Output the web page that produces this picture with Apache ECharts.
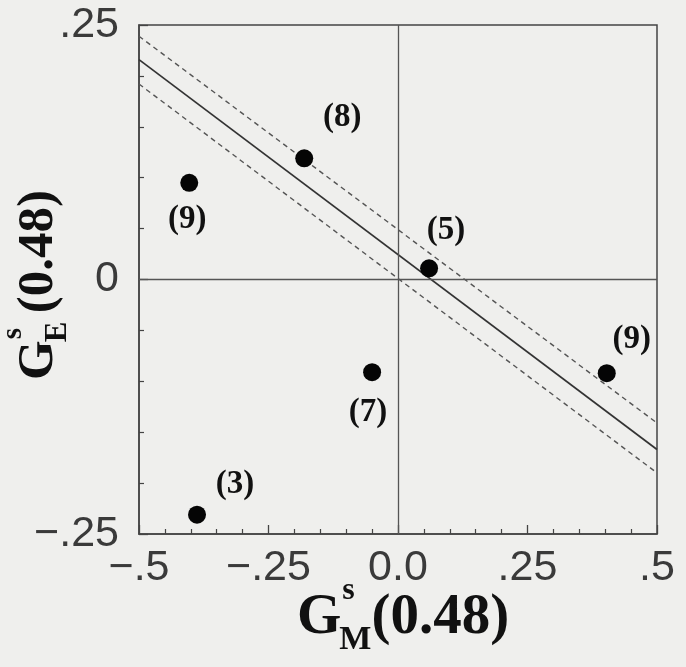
<!DOCTYPE html>
<html>
<head>
<meta charset="utf-8">
<script src="https://cdn.jsdelivr.net/npm/echarts@6/dist/echarts.min.js"></script>
<style>
html,body{margin:0;padding:0;background:#efefed;}
#chart{width:686px;height:667px;}
</style>
</head>
<body>
<div id="chart"></div>
<script>
// ---- data ----
var pointX = [-0.181, -0.403, 0.060, 0.403, -0.050, -0.388];
var pointY = [0.119, 0.095, 0.011, -0.092, -0.091, -0.231];
var pointLabels = ['(8)', '(9)', '(5)', '(9)', '(7)', '(3)'];
var fitX = [-0.5, 0.5];
var fitY = [0.216, -0.167];
var upperY = [0.239, -0.141];
var lowerY = [0.192, -0.190];
var xTickValues = [-0.5, -0.25, 0, 0.25, 0.5];
var xTickLabels = ['\u2212.5', '\u2212.25', '0.0', '.25', '.5'];
var yTickValues = [-0.25, 0, 0.25];
var yTickLabels = ['\u2212.25', '0', '.25'];

// label placement (pixel offsets relative to marker)
var labelOffsets = [[38, -41], [-2, 37], [17, -38], [25, -34], [-4, 40], [38, -30]];

function lookup(vals, labs, v) {
  for (var i = 0; i < vals.length; i++) if (Math.abs(vals[i] - v) < 1e-9) return labs[i];
  return '';
}
function pairs(xs, ys) { return xs.map(function (x, i) { return [x, ys[i]]; }); }

var chart = echarts.init(document.getElementById('chart'), null, {renderer: 'canvas'});

var tickFont = {fontFamily: '"Liberation Sans", Arial, sans-serif', fontSize: 43, color: '#3a3a3a'};
var nameFont = '"Liberation Serif", "Times New Roman", serif';

var scatterData = pointX.map(function (x, i) {
  return {
    value: [x, pointY[i]],
    label: {offset: labelOffsets[i]}
  };
});

function nameGroup(F, sub, sup, subF, supF) {
  var mid = -0.34 * F;
  var gw = 0.778 * F;
  return [
    {type: 'text', x: 0, y: mid, style: {text: 'G', font: 'bold ' + F + 'px ' + nameFont, fill: '#111', align: 'left', verticalAlign: 'middle'}},
    {type: 'text', x: gw + 1, y: -0.64 * F - 0.34 * supF, style: {text: sup, font: 'bold ' + supF + 'px ' + nameFont, fill: '#111', align: 'left', verticalAlign: 'middle'}},
    {type: 'text', x: gw - 2, y: 0.25 * F - 0.34 * subF, style: {text: sub, font: 'bold ' + subF + 'px ' + nameFont, fill: '#111', align: 'left', verticalAlign: 'middle'}},
    {type: 'text', x: gw + 0.53 * F, y: mid, style: {text: '(0.48)', font: 'bold ' + F + 'px ' + nameFont, fill: '#111', align: 'left', verticalAlign: 'middle'}}
  ];
}

var option = {
  backgroundColor: '#efefed',
  animation: false,
  grid: {left: 139, right: 29, top: 25, bottom: 133, show: true, borderColor: '#444', borderWidth: 1.5, backgroundColor: 'transparent'},
  xAxis: {
    type: 'value', min: -0.5, max: 0.5, interval: 0.25,
    axisLine: {show: true, onZero: false, lineStyle: {color: '#444', width: 1.5}},
    axisTick: {show: true, inside: true, length: 9, lineStyle: {color: '#444', width: 1.3}},
    minorTick: {show: true, splitNumber: 5, length: 5, lineStyle: {color: '#444', width: 1.2}},
    splitLine: {show: false},
    axisLabel: Object.assign({margin: 13, formatter: function (v) { return lookup(xTickValues, xTickLabels, v); }}, tickFont)
  },
  yAxis: {
    type: 'value', min: -0.25, max: 0.25, interval: 0.25,
    axisLine: {show: true, onZero: false, lineStyle: {color: '#444', width: 1.5}},
    axisTick: {show: true, inside: true, length: 9, lineStyle: {color: '#444', width: 1.3}},
    minorTick: {show: true, splitNumber: 5, length: 5, lineStyle: {color: '#444', width: 1.2}},
    splitLine: {show: false},
    axisLabel: Object.assign({margin: 20, formatter: function (v) { return lookup(yTickValues, yTickLabels, v); }}, tickFont)
  },
  series: [
    {
      type: 'line', data: pairs(fitX, upperY), showSymbol: false, silent: true,
      lineStyle: {color: '#555', width: 1.4, type: [5, 4]}
    },
    {
      type: 'line', data: pairs(fitX, fitY), showSymbol: false, silent: true,
      lineStyle: {color: '#333', width: 1.7, type: 'solid'}
    },
    {
      type: 'line', data: pairs(fitX, lowerY), showSymbol: false, silent: true,
      lineStyle: {color: '#555', width: 1.4, type: [5, 4]}
    },
    {
      type: 'scatter', data: scatterData, symbol: 'circle', symbolSize: 18,
      itemStyle: {color: '#050505', opacity: 1},
      label: {
        show: true, position: 'inside',
        formatter: function (p) { return pointLabels[p.dataIndex]; },
        fontFamily: nameFont, fontWeight: 'bold', fontSize: 33, color: '#111', opacity: 1
      },
      markLine: {
        silent: true, symbol: 'none', label: {show: false},
        lineStyle: {color: '#555', width: 1.3, type: 'solid'},
        data: [{xAxis: 0}, {yAxis: 0}]
      },
      z: 5
    }
  ],
  graphic: [
    {type: 'group', x: 297, y: 638, children: nameGroup(57, 'M', 's', 34, 32)},
    {type: 'group', x: 56, y: 380, rotation: Math.PI / 2, children: nameGroup(51, 'E', 's', 31, 29)}
  ]
};
chart.setOption(option);
</script>
</body>
</html>
